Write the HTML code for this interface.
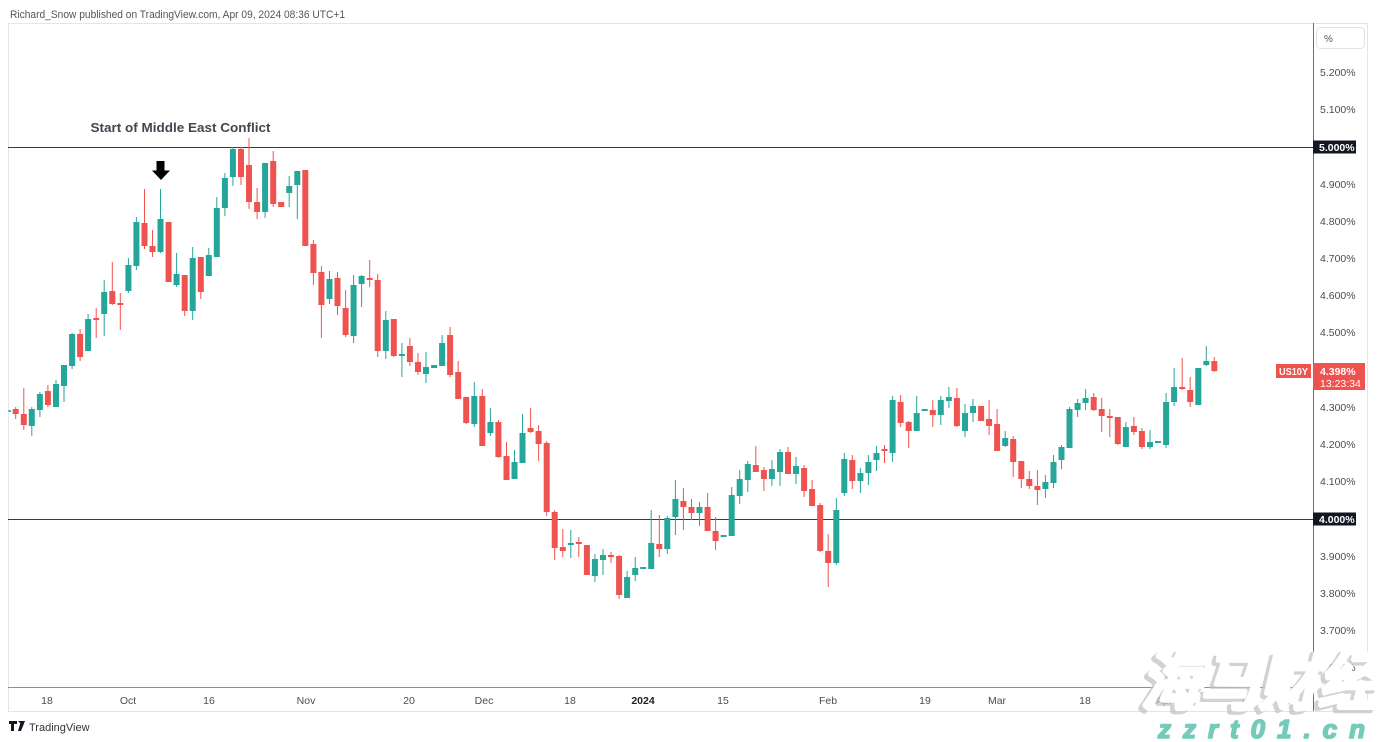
<!DOCTYPE html>
<html><head><meta charset="utf-8"><style>
html,body{margin:0;padding:0;background:#fff;}
svg{display:block;}
text{font-family:"Liberation Sans","DejaVu Sans",sans-serif;}
</style></head><body>
<svg width="1377" height="742" viewBox="0 0 1377 742" xmlns="http://www.w3.org/2000/svg">
<defs><clipPath id="pane"><rect x="8.5" y="23" width="1304" height="664"/></clipPath></defs>
<rect width="1377" height="742" fill="#fff"/>
<text x="10" y="18" font-size="11" fill="#555" textLength="335" lengthAdjust="spacingAndGlyphs">Richard_Snow published on TradingView.com, Apr 09, 2024 08:36 UTC+1</text>
<!-- pane borders -->
<rect x="8.5" y="23.5" width="1359" height="688" fill="none" stroke="#e3e5ea" stroke-width="1"/>
<line x1="1313.5" y1="23" x2="1313.5" y2="711" stroke="#6a6d78" stroke-width="1"/>
<line x1="8" y1="687.5" x2="1313" y2="687.5" stroke="#8a8d96" stroke-width="1"/>
<!-- horizontal lines -->
<line x1="8" y1="147.5" x2="1313" y2="147.5" stroke="#3a3a3a" stroke-width="1"/>
<line x1="8" y1="519.5" x2="1313" y2="519.5" stroke="#3a3a3a" stroke-width="1"/>
<!-- annotation -->
<text x="90.5" y="132" font-size="13" font-weight="bold" fill="#434651" textLength="180" lengthAdjust="spacingAndGlyphs">Start of Middle East Conflict</text>
<rect x="156.5" y="161" width="8" height="10" fill="#000"/>
<polygon points="152,170.5 170,170.5 161,180" fill="#000"/>
<g clip-path="url(#pane)">
<!-- green wicks -->
<path stroke="#26a69a" stroke-width="1" fill="none" d="M7.7 409V413M31.8 407V436M39.9 392V417M56 380V407M64 365V402M72.1 333V369M88.1 314V351M104.2 280V336M128.4 258V293M136.4 217V270M160.5 189V253M176.6 253V287M192.7 247V320M208.8 248V276M216.8 197V257M224.9 173V216M232.9 147V186M265.1 163V218M289.2 176V207M297.3 171V219M329.5 271V304M353.6 275V343M361.6 275V307M385.8 311V359M401.9 343V377M426 352V383M434.1 365V368M442.1 335V366M474.3 382V427M490.4 408V436M514.5 450V479M522.5 414V463M570.8 530V558M594.9 554V582M603 549V575M627.1 571V598M635.2 557V581M643.2 567V569M651.2 510V569M667.3 516V554M675.4 480V535M699.5 502V526M723.6 535V537M731.7 487V536M739.7 470V504M747.8 461V492M771.9 460V486M780 449V486M796 457V484M836.3 498V565M844.3 453V496M860.4 468V493M868.4 455V485M876.5 446V471M892.6 396V462M916.7 396V431M924.7 409V411M940.8 396V425M948.9 387V408M965 404V437M973 399V422M1005.2 431V447M1045.4 475V498M1053.5 455V488M1061.5 445V469M1069.5 407V448M1077.6 399V417M1085.6 389V410M1125.9 422V447M1150 430V449M1158 441V443M1166.1 393V448M1174.1 368V406M1198.3 368V405M1206.3 346V366"/>
<!-- green bodies -->
<path fill="#26a69a" d="M4.7 410h6V412h-6zM28.8 409h6V426h-6zM36.9 394h6V410h-6zM53 384h6V407h-6zM61 365h6V386h-6zM69.1 334h6V366h-6zM85.1 319h6V351h-6zM101.2 292h6V314h-6zM125.4 265h6V291h-6zM133.4 222h6V266h-6zM157.5 219h6V252h-6zM173.6 274h6V285h-6zM189.7 258h6V311h-6zM205.8 255h6V276h-6zM213.8 208h6V257h-6zM221.9 178h6V208h-6zM229.9 149h6V177h-6zM262.1 163h6V212h-6zM286.2 186h6V193h-6zM294.3 171h6V185h-6zM326.5 279h6V299h-6zM350.6 285h6V336h-6zM358.6 276h6V284h-6zM382.8 320h6V351h-6zM398.9 354h6V356h-6zM423 367h6V374h-6zM431.1 365h6V368h-6zM439.1 343h6V366h-6zM471.3 396h6V424h-6zM487.4 422h6V433h-6zM511.5 462h6V479h-6zM519.5 433h6V463h-6zM567.8 543h6V545h-6zM591.9 559h6V576h-6zM600 555h6V560h-6zM624.1 577h6V598h-6zM632.2 568h6V575h-6zM640.2 567h6V569h-6zM648.2 543h6V569h-6zM664.3 518h6V549h-6zM672.4 499h6V517h-6zM696.5 507h6V513h-6zM720.6 535h6V537h-6zM728.7 495h6V536h-6zM736.7 479h6V496h-6zM744.8 464h6V480h-6zM768.9 469h6V479h-6zM777 452h6V472h-6zM793 466h6V474h-6zM833.3 510h6V563h-6zM841.3 459h6V493h-6zM857.4 473h6V481h-6zM865.4 462h6V473h-6zM873.5 453h6V460h-6zM889.6 400h6V453h-6zM913.7 413h6V431h-6zM921.7 409h6V411h-6zM937.8 400h6V415h-6zM945.9 397h6V401h-6zM962 413h6V431h-6zM970 406h6V413h-6zM1002.2 438h6V446h-6zM1042.4 482h6V489h-6zM1050.5 462h6V483h-6zM1058.5 447h6V460h-6zM1066.5 409h6V448h-6zM1074.6 403h6V410h-6zM1082.6 398h6V403h-6zM1122.9 427h6V447h-6zM1147 442h6V447h-6zM1155 441h6V443h-6zM1163.1 402h6V445h-6zM1171.1 387h6V402h-6zM1195.3 368h6V405h-6zM1203.3 361h6V365h-6z"/>
<!-- red wicks -->
<path stroke="#ef5350" stroke-width="1" fill="none" d="M15.7 407V419M23.8 388V430M47.9 385V407M80.1 329V361M96.2 308V338M112.3 262V305M120.3 293V330M144.5 189V249M152.5 230V257M168.6 222V282M184.7 275V316M200.8 257V299M241 147V185M249 138V209M257.1 188V219M273.2 151V207M281.2 202V207M305.3 170V246M313.4 240V285M321.4 266V338M337.5 272V315M345.6 290V337M369.7 260V287M377.7 274V357M393.8 319V357M409.9 338V366M418 353V375M450.1 327V377M458.2 361V399M466.2 397V424M482.3 389V446M498.4 420V458M506.5 442V480M530.6 408V433M538.6 425V461M546.7 441V516M554.7 510V560M562.8 529V557M578.8 537V557M586.9 545V575M611 552V563M619.1 555V599M659.3 515V557M683.4 488V530M691.5 499V520M707.6 493V531M715.6 517V550M755.8 446V472M763.9 467V491M788 447V474M804.1 465V497M812.1 480V506M820.2 503V552M828.2 534V587M852.3 455V489M884.5 445V463M900.6 395V427M908.7 421V448M932.8 400V427M956.9 388V427M981.1 406V421M989.1 400V435M997.1 409V451M1013.2 436V477M1021.3 461V488M1029.3 471V489M1037.4 470V505M1093.7 393V411M1101.7 398V432M1109.8 409V437M1117.8 417V445M1133.9 417V435M1141.9 428V449M1182.2 358V390M1190.2 377V407M1214.3 357V372"/>
<!-- red bodies -->
<path fill="#ef5350" d="M12.7 409h6V414h-6zM20.8 414h6V425h-6zM44.9 391h6V405h-6zM77.1 334h6V357h-6zM93.2 318h6V320h-6zM109.3 291h6V304h-6zM117.3 303h6V305h-6zM141.5 223h6V246h-6zM149.5 246h6V252h-6zM165.6 222h6V282h-6zM181.7 275h6V311h-6zM197.8 257h6V292h-6zM238 149h6V177h-6zM246 165h6V202h-6zM254.1 202h6V212h-6zM270.2 161h6V204h-6zM278.2 202h6V207h-6zM302.3 170h6V246h-6zM310.4 244h6V273h-6zM318.4 272h6V305h-6zM334.5 278h6V306h-6zM342.6 308h6V335h-6zM366.7 278h6V280h-6zM374.7 280h6V351h-6zM390.8 319h6V356h-6zM406.9 346h6V362h-6zM415 362h6V372h-6zM447.1 335h6V375h-6zM455.2 372h6V399h-6zM463.2 397h6V423h-6zM479.3 396h6V446h-6zM495.4 422h6V457h-6zM503.5 456h6V480h-6zM527.6 428h6V432h-6zM535.6 431h6V444h-6zM543.7 443h6V512h-6zM551.7 512h6V548h-6zM559.8 547h6V551h-6zM575.8 542h6V544h-6zM583.9 545h6V575h-6zM608 555h6V557h-6zM616.1 556h6V595h-6zM656.3 544h6V549h-6zM680.4 501h6V507h-6zM688.5 507h6V513h-6zM704.6 507h6V531h-6zM712.6 531h6V541h-6zM752.8 465h6V472h-6zM760.9 470h6V479h-6zM785 452h6V474h-6zM801.1 468h6V491h-6zM809.1 489h6V506h-6zM817.2 505h6V551h-6zM825.2 551h6V563h-6zM849.3 460h6V481h-6zM881.5 449h6V451h-6zM897.6 402h6V423h-6zM905.7 422h6V431h-6zM929.8 410h6V415h-6zM953.9 398h6V426h-6zM978.1 406h6V421h-6zM986.1 419h6V426h-6zM994.1 424h6V451h-6zM1010.2 439h6V462h-6zM1018.3 461h6V479h-6zM1026.3 479h6V486h-6zM1034.4 486h6V490h-6zM1090.7 397h6V410h-6zM1098.7 409h6V416h-6zM1106.8 416h6V418h-6zM1114.8 417h6V444h-6zM1130.9 426h6V432h-6zM1138.9 431h6V447h-6zM1179.2 387h6V389h-6zM1187.2 390h6V402h-6zM1211.3 361h6V371h-6z"/>
</g>
<!-- price axis -->
<rect x="1316.5" y="27.5" width="48" height="21" rx="4" fill="#fff" stroke="#e0e3eb"/>
<text x="1324" y="42" font-size="10" fill="#555">%</text>
<g font-size="10.5" fill="#4a4d57">
<text x="1320" y="76">5.200%</text>
<text x="1320" y="113">5.100%</text>
<text x="1320" y="188">4.900%</text>
<text x="1320" y="225">4.800%</text>
<text x="1320" y="262">4.700%</text>
<text x="1320" y="299">4.600%</text>
<text x="1320" y="336">4.500%</text>
<text x="1320" y="411">4.300%</text>
<text x="1320" y="448">4.200%</text>
<text x="1320" y="485">4.100%</text>
<text x="1320" y="560">3.900%</text>
<text x="1320" y="597">3.800%</text>
<text x="1320" y="634">3.700%</text>
<text x="1320" y="671">3.600%</text>
</g>
<rect x="1313" y="140.5" width="43" height="13" fill="#131722"/>
<text x="1319" y="151" font-size="10.5" font-weight="bold" fill="#fff">5.000%</text>
<rect x="1313" y="512.5" width="43" height="13" fill="#131722"/>
<text x="1319" y="523" font-size="10.5" font-weight="bold" fill="#fff">4.000%</text>
<rect x="1276" y="364" width="35" height="14" fill="#ef5350"/>
<text x="1279" y="375" font-size="10" font-weight="bold" fill="#fff" textLength="29" lengthAdjust="spacingAndGlyphs">US10Y</text>
<rect x="1313" y="363" width="52" height="27" fill="#ef5350"/>
<text x="1320" y="375" font-size="10.5" font-weight="bold" fill="#fff">4.398%</text>
<text x="1320" y="387" font-size="10.5" fill="#fff">13:23:34</text>
<!-- time axis -->
<g font-size="10.5" fill="#4a4d57" text-anchor="middle">
<text x="47" y="704">18</text>
<text x="128" y="704">Oct</text>
<text x="209" y="704">16</text>
<text x="306" y="704">Nov</text>
<text x="409" y="704">20</text>
<text x="484" y="704">Dec</text>
<text x="570" y="704">18</text>
<text x="643" y="704" font-weight="bold" fill="#222">2024</text>
<text x="723" y="704">15</text>
<text x="828" y="704">Feb</text>
<text x="925" y="704">19</text>
<text x="997" y="704">Mar</text>
<text x="1085" y="704">18</text>
<text x="1164" y="704">Apr</text>
<text x="1246" y="704">15</text>
</g>
<!-- TradingView logo -->
<path d="M9 721h8v3h-3v7h-3v-7h-2z" fill="#131722"/>
<path d="M18 721h3v3zM21 721h4l-4 10h-3z" fill="#131722"/>
<text x="29" y="731" font-size="11" fill="#333">TradingView</text>
<!-- watermark -->
<text x="1137" y="707" font-size="62" font-weight="bold" font-style="italic" fill="#c4c4c4" stroke="#c4c4c4" stroke-width="4" stroke-linejoin="round" font-family="'Noto Sans CJK SC','WenQuanYi Zen Hei',sans-serif" textLength="236" lengthAdjust="spacingAndGlyphs" opacity="0.75">海马财经</text>
<text x="1141" y="704" font-size="62" font-weight="bold" font-style="italic" fill="#ffffff" stroke="#ffffff" stroke-width="3.5" stroke-linejoin="round" font-family="'Noto Sans CJK SC','WenQuanYi Zen Hei',sans-serif" textLength="236" lengthAdjust="spacingAndGlyphs">海马财经</text>
<text x="1158" y="738" font-size="26" font-weight="bold" font-style="italic" fill="#74cbbb" stroke="#74cbbb" stroke-width="1.6" stroke-linejoin="round" textLength="207" lengthAdjust="spacing">zzrt01.cn</text>
</svg>
</body></html>
